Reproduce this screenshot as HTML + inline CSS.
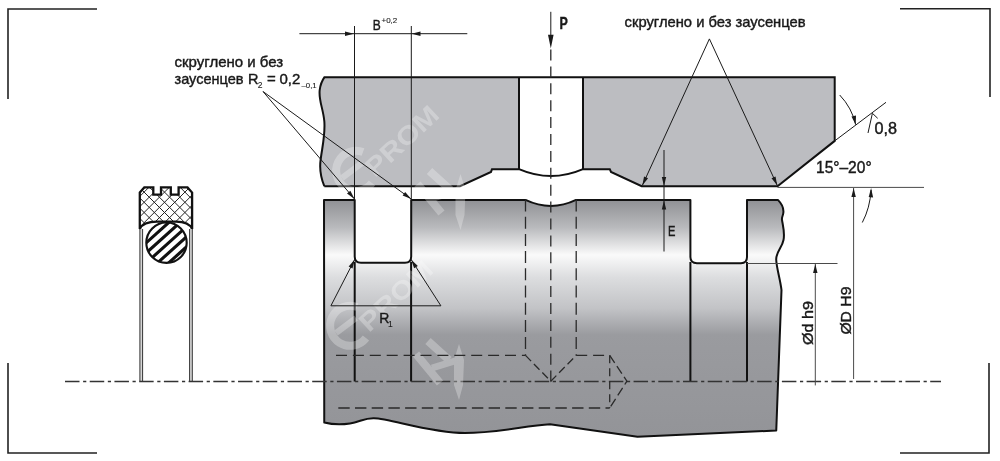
<!DOCTYPE html>
<html><head><meta charset="utf-8">
<style>
html,body{margin:0;padding:0;background:#fff;width:1000px;height:461px;overflow:hidden}
svg{display:block}
text{font-family:"Liberation Sans",sans-serif;fill:#1a1a1a}
</style></head>
<body>
<svg width="1000" height="461" viewBox="0 0 1000 461">
<defs>
<linearGradient id="rod" x1="0" y1="199" x2="0" y2="437" gradientUnits="userSpaceOnUse">
<stop offset="0" stop-color="#8e8f93"/>
<stop offset="0.12" stop-color="#b9babd"/>
<stop offset="0.235" stop-color="#fafafa"/>
<stop offset="0.33" stop-color="#dcdddf"/>
<stop offset="0.46" stop-color="#c2c3c6"/>
<stop offset="0.57" stop-color="#9a9b9f"/>
<stop offset="1" stop-color="#939498"/>
</linearGradient>
<clipPath id="sealclip"><path d="M139.8,192.6 L144.3,187.4 L153.3,187.4 L153.3,194.6 L161,194.6 L161,187.4 L170.8,187.4 L170.8,194.6 L178.6,194.6 L178.6,187.4 L187.5,187.4 L192.1,192.6 L192.1,229 Q189,221.6 176,221.6 L157,221.6 Q143,221.6 139.8,229 Z"/></clipPath>
<clipPath id="oclip"><circle cx="166.5" cy="242.7" r="20.2"/></clipPath>
</defs>

<!-- corner brackets -->
<g stroke="#222" stroke-width="1.6" fill="none">
<path d="M8,99 L8,9 L97,9"/>
<path d="M900,8.8 L990,8.8 L990,97"/>
<path d="M8,363 L8,453 L97,453"/>
<path d="M989,363 L989,453 L900,453"/>
</g>

<!-- top housing -->
<path d="M324.5,77.2 L834.7,77.2 L834.7,140.9 L777.5,186.2 L641.7,186.2 L611,171.9 L609.8,169.2 L583,169.2 L583,77.2 L519,77.2 L519,169.2 L492,169.2 L491,171.9 L460,186.2 L324.3,186.2 C321,178 319.5,168 320.6,160 C322,148 325.5,135 324.3,121 C323,108 318.5,100 319.7,90 C320.5,84 322.5,80 324.5,77.2 Z" fill="#bcbdc1"/>
<g fill="none" stroke="#111" stroke-width="2">
<path d="M324.3,186.2 C321,178 319.5,168 320.6,160 C322,148 325.5,135 324.3,121 C323,108 318.5,100 319.7,90 C320.5,84 322.5,80 324.5,77.2 L834.7,77.2 L834.7,140.9 L777.5,186.2 L641.7,186.2 L611,171.9 L609.8,169.2 L583,169.2 L583,77.2 M583,169.2 Q551,183 519,169.2 L519,77.2 M519,169.2 L492,169.2 L491,171.9 L460,186.2 L324.3,186.2"/>
</g>

<!-- rod -->
<path d="M324,199.9 L354.7,199.9 L354.7,256.5 Q354.7,262.8 361,262.8 L405,262.8 Q411.2,262.8 411.2,256.5 L411.2,199.9 L525.5,199.9 Q551,212 576,199.9 L690.4,199.9 L690.4,257 Q690.4,263.2 697,263.2 L741,263.2 Q747,263.2 747,257 L747,199.9 L777.9,199.9 C781,203 784,208 783.3,213 C783,216 781.5,217 782,220 C783,226 785,233 783.5,240 C782,248 776,252 776.2,259.5 C776.5,268 780,278 781.5,290 L776.25,430.5 L637.5,436.8 L550,424.3 C525,426 495,433 465,433 C430,433 390,418.5 374,418.3 C364,418 360,422 350,423.5 C340,425 332,424.5 324.25,422.5 Z" fill="url(#rod)" stroke="#111" stroke-width="2" stroke-linejoin="round"/>
<path d="M354.7,262 L354.7,381.5 M411.1,262 L411.1,381.5 M690.4,262 L690.4,381.5 M747,262 L747,381.5" stroke="#111" stroke-width="2" fill="none"/>

<!-- seal -->
<path d="M139.8,192.6 L144.3,187.4 L153.3,187.4 L153.3,194.6 L161,194.6 L161,187.4 L170.8,187.4 L170.8,194.6 L178.6,194.6 L178.6,187.4 L187.5,187.4 L192.1,192.6 L192.1,229 Q189,221.6 176,221.6 L157,221.6 Q143,221.6 139.8,229 Z" fill="#fff"/>
<g clip-path="url(#sealclip)" stroke="#222" stroke-width="1" fill="none">
<path d="M-10.6,170L59.4,240M54.0,170L-16.0,240M-0.4,170L69.6,240M64.2,170L-5.8,240M9.8,170L79.8,240M74.4,170L4.4,240M20.0,170L90.0,240M84.6,170L14.6,240M30.2,170L100.2,240M94.8,170L24.8,240M40.4,170L110.4,240M105.0,170L35.0,240M50.6,170L120.6,240M115.2,170L45.2,240M60.8,170L130.8,240M125.4,170L55.4,240M71.0,170L141.0,240M135.6,170L65.6,240M81.2,170L151.2,240M145.8,170L75.8,240M91.4,170L161.4,240M156.0,170L86.0,240M101.6,170L171.6,240M166.2,170L96.2,240M111.8,170L181.8,240M176.4,170L106.4,240M122.0,170L192.0,240M186.6,170L116.6,240M132.2,170L202.2,240M196.8,170L126.8,240M142.4,170L212.4,240M207.0,170L137.0,240M152.6,170L222.6,240M217.2,170L147.2,240M162.8,170L232.8,240M227.4,170L157.4,240M173.0,170L243.0,240M237.6,170L167.6,240M183.2,170L253.2,240M247.8,170L177.8,240M193.4,170L263.4,240M258.0,170L188.0,240M203.6,170L273.6,240M268.2,170L198.2,240M213.8,170L283.8,240M278.4,170L208.4,240M224.0,170L294.0,240M288.6,170L218.6,240M234.2,170L304.2,240M298.8,170L228.8,240"/>
</g>
<path d="M139.8,192.6 L144.3,187.4 L153.3,187.4 L153.3,194.6 L161,194.6 L161,187.4 L170.8,187.4 L170.8,194.6 L178.6,194.6 L178.6,187.4 L187.5,187.4 L192.1,192.6 L192.1,229 Q189,221.6 176,221.6 L157,221.6 Q143,221.6 139.8,229 Z" fill="none" stroke="#111" stroke-width="2.3" stroke-linejoin="miter"/>
<circle cx="166.5" cy="242.7" r="20.2" fill="#fff"/>
<g clip-path="url(#oclip)" stroke="#111" stroke-width="3.1" fill="none">
<path d="M125.1,241.6L169.7,201.4M130.2,247.2L174.7,207.0M135.2,252.7L179.8,212.6M140.2,258.3L184.8,218.2M145.2,263.9L189.8,223.7M150.2,269.5L194.8,229.3M155.2,275.0L199.8,234.9M160.3,280.6L204.9,240.5M165.3,286.2L209.9,246.0"/>
</g>
<circle cx="166.5" cy="242.7" r="20.2" fill="none" stroke="#111" stroke-width="2.1"/>
<rect x="140" y="229" width="2.5" height="152" fill="#d6d6d6"/><rect x="189.7" y="229" width="2.5" height="152" fill="#d6d6d6"/>
<g stroke="#333" stroke-width="1">
<path d="M139.9,229 L139.9,381 M142.6,229 L142.6,381 M189.6,229 L189.6,381 M192.3,229 L192.3,381"/>
</g>
<!-- axis -->
<path d="M65,381.5 L941,381.5" stroke="#333" stroke-width="1.3" stroke-dasharray="14.5,3.6,3.2,3.42" fill="none"/>


<!-- watermark -->
<defs>
<g id="wm1">
<path d="M357,307 A20,20 0 1 0 366,338" fill="none" stroke="#fff" stroke-width="8"/>
<path d="M336,333 L356,318" stroke="#fff" stroke-width="6"/>
<text transform="translate(369,333) rotate(-43)" font-size="26" font-weight="bold" textLength="90" lengthAdjust="spacingAndGlyphs" style="fill:#fff">PROM</text>
</g>
<g id="wm2">
<path d="M428,341 L449,360" stroke="#fff" stroke-width="8"/>
<path d="M416,354 L440,383" stroke="#fff" stroke-width="8"/>
<path d="M432,368 L458,360" stroke="#fff" stroke-width="7"/>
<path d="M459,344 L464,360 L463,385 L459,400 L454,385 L454,360 Z" fill="#fff"/>
</g>
</defs>
<g opacity="0.28">
<use href="#wm1"/><use href="#wm2"/>
<use href="#wm1" transform="translate(6,-155)"/><use href="#wm2" transform="translate(1.5,-170)"/>
</g>

<!-- hidden lines -->
<g fill="none" stroke="#2a2a2a" stroke-width="1.3">
<path d="M550.8,49.5 L550.8,381.2" stroke-dasharray="11,5.9"/>
<path d="M525.5,199.5 L525.5,355.4" stroke-dasharray="12,5.2"/>
<path d="M576.2,199.5 L576.2,355.4" stroke-dasharray="12,5.2"/>
<path d="M336,355.3 L525.5,355.3 M576.2,355.3 L609.7,355.3" stroke-dasharray="11,5.9"/>
<path d="M338.3,408 L609.7,408" stroke-dasharray="11.4,5.3"/>
<path d="M609.7,355.3 L609.7,408" stroke-dasharray="8,5"/>
<path d="M525.5,355.4 L550.8,381.2 L576.2,355.4" stroke-dasharray="8,4"/>
<path d="M609.7,355.3 L626.9,381.2 L609.7,408" stroke-dasharray="9,4"/>
</g>

<!-- dimension & leader thin lines -->
<g fill="none" stroke="#1a1a1a" stroke-width="1">
<path d="M299.4,33.7 L467.3,33.7"/>
<path d="M354.5,26 L354.5,199.5 M411.3,26 L411.3,199.5"/>
<path d="M550.8,11.8 L550.8,40"/>
<path d="M263,91.5 L354.5,199 M263,91.5 L411.2,199"/>
<path d="M642.3,185.5 L709.4,38.9 L777.3,185.5"/>
<path d="M330.9,305.8 L354.7,259.5 M440.9,305.8 L411.1,259.5 M330.9,305.8 L440.9,305.8"/>
<path d="M664,150 L664,251.5"/>
<path d="M777.5,187.4 L924,187.4 M747,263.5 L837.5,263.5 M815.3,263.5 L815.3,385.4 M853.6,188 L853.6,379" stroke="#4a4a4a"/>
<path d="M834.7,140.9 L886,102.3"/>
<path d="M868,133 L872.4,113.3 L877.7,118.3"/>
<path d="M839.7,95 Q852,108 855.7,124.7"/>
<path d="M871.1,190 Q870,208 862.3,222.5"/>
</g>
<g fill="#1a1a1a" stroke="none">
<path d="M354.50,199.00 L346.99,193.57 L350.34,190.72 Z"/>
<path d="M411.20,199.00 L402.62,195.50 L405.21,191.93 Z"/>
<path d="M642.30,185.50 L644.05,176.40 L648.05,178.23 Z"/>
<path d="M777.30,185.50 L771.52,178.26 L775.51,176.41 Z"/>
<path d="M354.70,259.50 L352.54,268.51 L348.63,266.50 Z"/>
<path d="M411.10,259.50 L417.82,265.88 L414.12,268.26 Z"/>
<path d="M354,33.7 L345,31.5 L345,35.9 Z"/>
<path d="M411.5,33.7 L420.5,31.5 L420.5,35.9 Z"/>
<path d="M550.8,48.6 L548,34.7 L553.6,34.7 Z"/>
<path d="M664,186 L661.8,177 L666.2,177 Z"/>
<path d="M664,200.5 L661.8,209.5 L666.2,209.5 Z"/>
<path d="M853.6,188 L851.4,197 L855.8,197 Z"/>
<path d="M815.3,264 L813.1,273 L817.5,273 Z"/>
<path d="M871.1,188 L868.7,197 L873.1,197.4 Z"/>
<path d="M855.7,124.7 L851.5,116.5 L856,115.5 Z"/>
</g>

<!-- texts -->
<g fill="#151515" stroke="#151515" stroke-width="0.4">
<text x="174.5" y="66.6" font-size="15">скруглено и без</text>
<text x="174.5" y="84.2" font-size="15" textLength="69" lengthAdjust="spacingAndGlyphs">заусенцев</text>
<text x="248" y="84.2" font-size="14.5">R</text>
<text stroke-width="0.1" x="257.8" y="88" font-size="8.5">2</text>
<text x="267" y="84.2" font-size="15">=</text>
<text x="279.4" y="84.2" font-size="15">0,2</text>
<text stroke-width="0.1" x="301.5" y="87.5" font-size="7.8">–0,1</text>
<text x="624.6" y="26.6" font-size="15" textLength="181" lengthAdjust="spacingAndGlyphs">скруглено и без заусенцев</text>
<text transform="translate(559.5,29) scale(0.78,1)" font-size="16" font-weight="bold">P</text>
<text x="372.8" y="29.7" font-size="15" transform="translate(372.8,0) scale(0.8,1) translate(-372.8,0)">B</text>
<text stroke-width="0.1" x="381.5" y="23" font-size="8">+0,2</text>
<text x="874.6" y="134.3" font-size="16.2">0,8</text>
<text x="816" y="173" font-size="16.3" textLength="55.6" lengthAdjust="spacingAndGlyphs">15°–20°</text>
<text x="668" y="236" font-size="15.5" transform="translate(668,0) scale(0.72,1) translate(-668,0)">E</text>
<text x="379.3" y="323" font-size="15.5" transform="translate(379.3,0) scale(0.9,1) translate(-379.3,0)">R</text>
<text stroke-width="0.1" x="388" y="327" font-size="8.5">1</text>
<text transform="translate(813.2,345) rotate(-90)" font-size="15.5" textLength="44" lengthAdjust="spacingAndGlyphs">Ød h9</text>
<text transform="translate(850.8,334.6) rotate(-90)" font-size="15.5" textLength="48" lengthAdjust="spacingAndGlyphs">ØD H9</text>
</g>
</svg>
</body></html>
